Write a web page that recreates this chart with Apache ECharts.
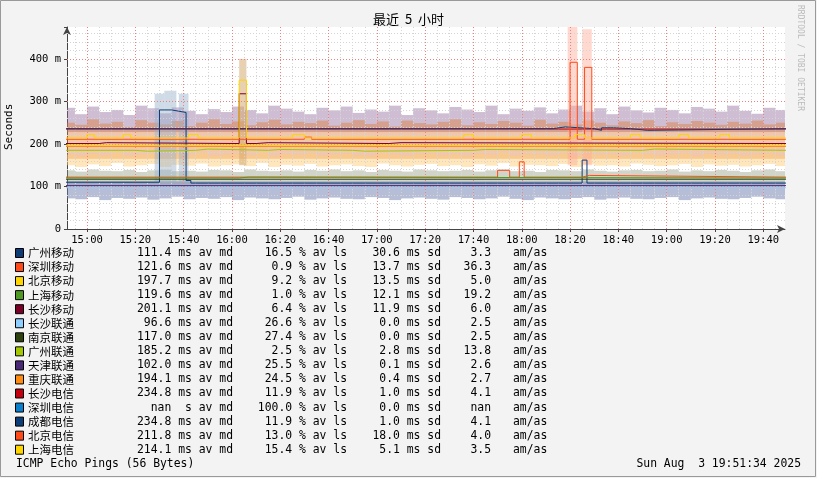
<!DOCTYPE html>
<html><head><meta charset="utf-8">
<script src="https://cdn.jsdelivr.net/npm/echarts@6/dist/echarts.min.js"></script>
<style>html,body{margin:0;padding:0;background:#f3f3f3}#c{width:817px;height:478px}</style>
</head><body><div id="c"></div>
<script>
// ---- data ----
const xTickMinutes = [0,20,40,60,80,100,120,140,160,180,200,220,240,260,280];
const xTickLabels = ['15:00','15:20','15:40','16:00','16:20','16:40','17:00','17:20','17:40','18:00','18:20','18:40','19:00','19:20','19:40'];
const yTickLabels = ['0','100 m','200 m','300 m','400 m'];
// smoke bands, 5-minute slots starting at 14:50
const purpleHigh = [285,270,288,275,280,268,290,284,272,286,278,270,282,275,288,280,272,290,283,276,270,285,279,288,273,281,276,290,268,284,279,272,287,281,275,290,270,283,278,286,272,281,290,276,284,270,288,279,274,285,280,272,287,283,276,290,278,271,285,280];
const orangeHigh = [250,245,258,248,252,240,256,250,246,254,242,250,258,247,253,244,251,257,246,252,249,255,243,250,256,247,253,241,255,249,246,252,258,244,251,247,254,250,243,257,248,252,246,255,250,244,253,249,256,242,251,247,254,250,245,252,248,255,246,250];
const paleLow = [150,146,152,148,155,147,150,153,146,151,149,154,147,150,152,148,155,146,151,149,153,147,150,152,148,146,154,150,147,151,153,148,150,146,152,149,155,147,151,150,148,153,146,152,149,150,147,154,151,148,150,153,146,152,149,151,147,150,153,148];
const greyHigh = [138,135,140,137,136,139,134,138,140,136,137,135,139,138,134,140,137,136,138,135,139,137,140,136,138,134,139,137,135,140,138,136,137,139,135,138,140,136,137,134,139,138,136,140,137,135,138,139,136,137,140,135,138,136,139,137,134,138,140,136];
const blueLow = [72,70,75,68,73,71,74,69,72,76,70,73,71,75,68,74,72,70,73,76,69,72,74,71,70,75,73,68,72,74,71,69,75,73,70,72,76,71,68,74,72,70,73,75,69,72,74,71,70,73,75,68,72,74,71,70,73,76,72,70];
// tall smoke spikes: [startMin, endMin, low, high]
const spikeBlue = [[28,32,110,318],[32,37,110,325],[38,42,110,318]];
const spikeTan = [[63,66,150,400]];
const spikePink = [[199,203,150,478],[205,209,150,470]];
// median lines [minute, ms]
const names = ['广州移动','深圳移动','北京移动','上海移动','长沙移动','长沙联通','南京联通','广州联通','天津联通','重庆联通','长沙电信','深圳电信','成都电信','北京电信','上海电信'];
const colors = ['#0d3b75','#ff4a1a','#ffd500','#4f9a22','#7a0028','#8ecfff','#2e4210','#a4c800','#4a2878','#ff8c10','#c40010','#0a80cc','#0b3e78','#ff4a1a','#ffd500'];
const stats = [
 ['111.4 ms av md','16.5 % av ls','30.6 ms sd','3.3'],
 ['121.6 ms av md','0.9 % av ls','13.7 ms sd','36.3'],
 ['197.7 ms av md','9.2 % av ls','13.5 ms sd','5.0'],
 ['119.6 ms av md','1.0 % av ls','12.1 ms sd','19.2'],
 ['201.1 ms av md','6.4 % av ls','11.9 ms sd','6.0'],
 ['96.6 ms av md','26.6 % av ls','0.0 ms sd','2.5'],
 ['117.0 ms av md','27.4 % av ls','0.0 ms sd','2.5'],
 ['185.2 ms av md','2.5 % av ls','2.8 ms sd','13.8'],
 ['102.0 ms av md','25.5 % av ls','0.1 ms sd','2.6'],
 ['194.1 ms av md','24.5 % av ls','0.4 ms sd','2.7'],
 ['234.8 ms av md','11.9 % av ls','1.0 ms sd','4.1'],
 ['nan  s av md','100.0 % av ls','0.0 ms sd','nan'],
 ['234.8 ms av md','11.9 % av ls','1.0 ms sd','4.1'],
 ['211.8 ms av md','13.0 % av ls','18.0 ms sd','4.0'],
 ['214.1 ms av md','15.4 % av ls','5.1 ms sd','3.5']
];
const lineData = {
 '广州移动': [[-10,110],[30,280],[35,277],[38,274],[41,114],[43,108],[204,108],[205,162],[207,108],[290,108]],
 '深圳移动': [[-10,122],[168,122],[170,138],[175,122],[179,158],[181,122],[205,126],[208,122],[290,122]],
 '北京移动': [[-10,197],[290,197]],
 '上海移动': [[-10,120],[60,120],[63,122],[67,120],[290,120]],
 '长沙移动': [[-10,201],[5,203],[8,201],[63,318],[66,201],[70,203],[75,201],[125,203],[130,201],[290,201]],
 '长沙联通': [[-10,97],[290,97]],
 '南京联通': [[-10,117],[290,117]],
 '广州联通': [[-10,185],[20,183],[25,185],[45,188],[50,185],[75,187],[80,185],[110,183],[115,185],[160,187],[165,185],[230,188],[235,185],[290,185]],
 '天津联通': [[-10,102],[290,102]],
 '重庆联通': [[-10,194],[290,194]],
 '长沙电信': [[-10,235],[290,235]],
 '深圳电信': [],
 '成都电信': [[-10,236],[190,236],[193,240],[198,236],[210,232],[213,238],[218,236],[225,232],[232,236],[290,236]],
 '北京电信': [[-10,211],[90,216],[93,211],[199,211],[200,392],[203,211],[206,380],[209,211],[290,211]],
 '上海电信': [[-10,214],[0,222],[3,214],[15,222],[18,214],[42,222],[46,214],[63,350],[66,214],[78,214],[85,222],[90,214],[137,214],[156,222],[160,214],[175,214],[180,222],[184,214],[202,222],[206,214],[225,222],[229,214],[245,222],[249,214],[262,222],[266,214],[290,214]]
};

// ---- chart ----
const slotT = i => -10 + 5*i;
const series = [];
function rectSeries(rows, color){
  series.push({type:'custom',silent:true,z:1,data:rows,
    renderItem:(params,api)=>{
      const p0=api.coord([api.value(0),api.value(3)]);
      const p1=api.coord([api.value(1),api.value(2)]);
      const cs=params.coordSys;
      const r=echarts.graphic.clipRectByRect({x:p0[0],y:p0[1],width:p1[0]-p0[0],height:p1[1]-p0[1]},{x:cs.x,y:cs.y,width:cs.width,height:cs.height});
      return r?{type:'rect',shape:r,style:{fill:color}}:null;
    },encode:{x:[0,1],y:[2,3]}});
}
function band(low, high, color){
  rectSeries(high.map((h,i)=>[slotT(i),slotT(i)+5,low[i],h]), color);
}
band(purpleHigh.map(()=>228), purpleHigh, 'rgba(140,100,150,0.42)');
band(orangeHigh.map(()=>165), orangeHigh, 'rgba(225,120,50,0.42)');
band(paleLow, paleLow.map(v=>v+25), 'rgba(255,205,120,0.5)');
band(greyHigh.map(()=>104), greyHigh, 'rgba(140,150,120,0.4)');
band(blueLow, blueLow.map(()=>112), 'rgba(110,125,175,0.5)');
rectSeries(spikeBlue,'rgba(150,175,205,0.45)');
rectSeries(spikeTan,'rgba(215,170,110,0.55)');
rectSeries(spikePink,'rgba(255,170,150,0.45)');

// grid lines
const minorX=[], majorX=[];
for(let m=-5;m<=285;m+=5){ (m%20===0?majorX:minorX).push(m); }
const minorY=[], majorY=[];
for(let v=20;v<=460;v+=20){ (v%100===0?majorY:minorY).push(v); }
series.push({type:'line',data:[],silent:true,markLine:{silent:true,symbol:'none',label:{show:false},animation:false,
  lineStyle:{color:'#d4d4d4',type:[1,2],width:1},
  data:[...minorX.map(x=>({xAxis:x})),...minorY.map(y=>({yAxis:y}))]},z:0});
series.push({type:'line',data:[],silent:true,markLine:{silent:true,symbol:'none',label:{show:false},animation:false,
  lineStyle:{color:'#f08080',type:[1,2],width:1},
  data:[...majorX.map(x=>({xAxis:x})),...majorY.map(y=>({yAxis:y}))]},z:0});

names.forEach((n,i)=>{
  series.push({name:n,type:'line',step:'end',symbol:'none',data:lineData[n],lineStyle:{color:colors[i],width:1},z:5});
});

const graphic=[];
graphic.push({type:'text',left:'center',top:13,style:{text:'最近  5  小时',font:'13px "Noto Sans CJK SC"',fill:'#000'}});
graphic.push({type:'text',x:4,y:150,rotation:Math.PI/2,style:{text:'Seconds',font:'11px "DejaVu Sans Mono"',fill:'#000'}});
graphic.push({type:'text',x:804,y:5,rotation:-Math.PI/2,style:{text:'RRDTOOL / TOBI OETIKER',font:'8px "DejaVu Sans Mono"',fill:'#bbb'}});
const f='11.4px "DejaVu Sans Mono"';
names.forEach((n,i)=>{
  const yc=253+i*14.05;
  graphic.push({type:'rect',shape:{x:15.5,y:yc-4.5,width:8,height:9},style:{fill:colors[i],stroke:'#000',lineWidth:1}});
  graphic.push({type:'text',x:28,y:yc,style:{text:n,font:'11.5px "Noto Sans CJK SC"',fill:'#000',verticalAlign:'middle'}});
  const s=stats[i];
  graphic.push({type:'text',x:233,y:yc,style:{text:s[0],font:f,fill:'#000',align:'right',verticalAlign:'middle'}});
  graphic.push({type:'text',x:347,y:yc,style:{text:s[1],font:f,fill:'#000',align:'right',verticalAlign:'middle'}});
  graphic.push({type:'text',x:441,y:yc,style:{text:s[2],font:f,fill:'#000',align:'right',verticalAlign:'middle'}});
  graphic.push({type:'text',x:491,y:yc,style:{text:s[3],font:f,fill:'#000',align:'right',verticalAlign:'middle'}});
  graphic.push({type:'text',x:513,y:yc,style:{text:'am/as',font:f,fill:'#000',verticalAlign:'middle'}});
});
graphic.push({type:'text',x:16,y:464,style:{text:'ICMP Echo Pings (56 Bytes)',font:f,fill:'#000',verticalAlign:'middle'}});
graphic.push({type:'text',x:801,y:464,style:{text:'Sun Aug  3 19:51:34 2025',font:f,fill:'#000',align:'right',verticalAlign:'middle'}});
graphic.push({type:'rect',shape:{x:0.5,y:0.5,width:815,height:476},style:{fill:'none',stroke:'#999',lineWidth:1}});

const chart=echarts.init(document.getElementById('c'));
chart.setOption({
  animation:false,
  backgroundColor:'#f3f3f3',
  grid:{left:67,right:32,top:27,bottom:249,show:true,backgroundColor:'#fff',borderWidth:0},
  xAxis:{type:'value',min:-8.3,max:289,
    axisLine:{onZero:false,lineStyle:{color:'#444'},symbol:['none','arrow'],symbolSize:[6,8]},
    axisTick:{customValues:xTickMinutes,lineStyle:{color:'#444'},length:3},
    axisLabel:{customValues:xTickMinutes,formatter:v=>xTickLabels[xTickMinutes.indexOf(v)]||'',fontFamily:'DejaVu Sans Mono',fontSize:10.5,color:'#000',margin:6},
    splitLine:{show:false}},
  yAxis:{type:'value',min:0,max:475,interval:100,
    axisLine:{show:true,onZero:false,lineStyle:{color:'#444'},symbol:['none','arrow'],symbolSize:[6,8]},
    axisTick:{show:true,lineStyle:{color:'#444'},length:3},
    axisLabel:{formatter:v=>yTickLabels[v/100]||'',fontFamily:'DejaVu Sans Mono',fontSize:10.5,color:'#000',margin:6},
    splitLine:{show:false}},
  series,
  graphic
});
</script></body></html>
